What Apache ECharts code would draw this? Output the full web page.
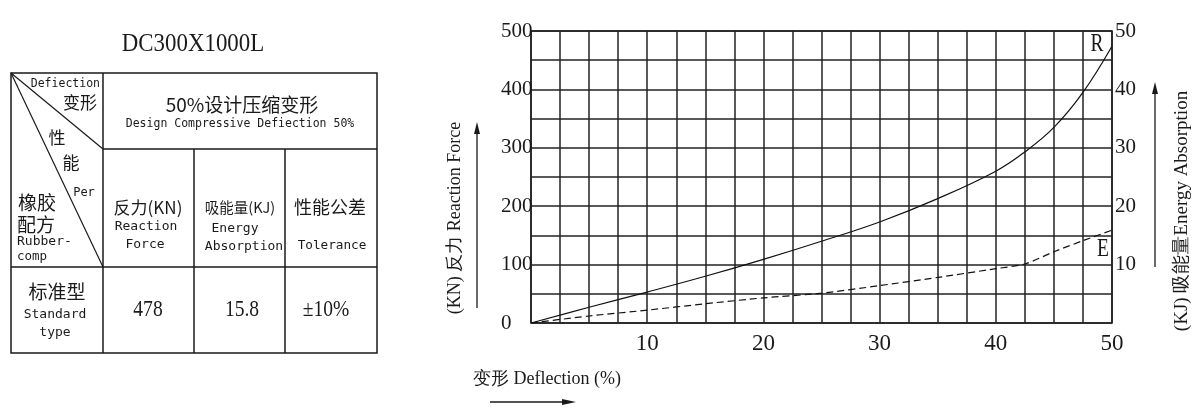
<!DOCTYPE html>
<html>
<head>
<meta charset="utf-8">
<script src="https://cdn.jsdelivr.net/npm/echarts@6/dist/echarts.min.js"></script>
<style>
html,body{margin:0;padding:0;background:#fff;}
#c{width:1200px;height:414px;}
</style>
</head>
<body>
<div id="c"></div>
<script>
// ---- data ----
const defR = [0, 5, 10, 15, 20, 25, 30, 35, 40, 42.5, 45, 47.5, 50];
const forceR = [0, 27, 53, 80, 109, 140, 173, 213, 260, 293, 335, 395, 474];
const defE = [0, 5, 10, 15, 20, 25, 30, 35, 40, 42.5, 45, 47.5, 50];
const energyE = [0, 1.2, 2.2, 3.3, 4.3, 5.1, 6.4, 7.8, 9.3, 10.1, 12.2, 14.1, 15.9];
const xTickLabels = [10, 20, 30, 40, 50];
const yLeftTickLabels = [0, 100, 200, 300, 400, 500];
const yRightTickLabels = [10, 20, 30, 40, 50];

const title = 'DC300X1000L';
const tableValues = ['478', '15.8', '±10%'];

// ---- helpers ----
const INK = '#1a1a1a';
const MONO = "'DejaVu Sans Mono', monospace";
const CJK = "'Noto Sans CJK SC', sans-serif";
const SERIF = "'Liberation Serif', serif";

function T(text, x, y, size, family, o) {
  o = o || {};
  return {
    type: 'text', x: x, y: y,
    scaleX: o.sx || 1, rotation: o.rot || 0,
    style: {
      text: text, x: 0, y: 0,
      fill: INK,
      font: (o.weight || 'normal') + ' ' + size + 'px ' + family,
      textAlign: o.align || 'center',
      textVerticalAlign: 'middle'
    }
  };
}
function L(x1, y1, x2, y2, w) {
  return { type: 'line', shape: { x1: x1, y1: y1, x2: x2, y2: y2 },
    style: { stroke: INK, lineWidth: w || 1.5 } };
}
function arrowUp(x, yBot, yTip) {
  return [L(x, yBot, x, yTip + 8, 1.3),
    { type: 'polygon', shape: { points: [[x, yTip], [x - 3, yTip + 12], [x + 3, yTip + 12]] }, style: { fill: INK } }];
}
function arrowRight(y, xL, xTip) {
  return [L(xL, y, xTip - 8, y, 1.3),
    { type: 'polygon', shape: { points: [[xTip, y], [xTip - 14, y - 3], [xTip - 14, y + 3]] }, style: { fill: INK } }];
}

// ---- table geometry ----
const tx0 = 11, tx1 = 103, tx2 = 194, tx3 = 285, tx4 = 377;
const ty0 = 73, ty1 = 149, ty2 = 267, ty3 = 353;

const g = [];
// table lines
g.push({ type: 'rect', shape: { x: tx0, y: ty0, width: tx4 - tx0, height: ty3 - ty0 },
  style: { fill: 'none', stroke: INK, lineWidth: 1.5 } });
g.push(L(tx1, ty0, tx1, ty3));
g.push(L(tx1, ty1, tx4, ty1));
g.push(L(tx0, ty2, tx4, ty2));
g.push(L(tx2, ty1, tx2, ty3));
g.push(L(tx3, ty1, tx3, ty3));
g.push(L(tx0, ty0, tx1, ty1, 1.2));
g.push(L(tx0, ty0, tx1, ty2, 1.2));

// title
g.push(T(title, 193, 44, 26, SERIF, { sx: 0.88 }));

// header corner
g.push(T('Defiection', 100, 84, 11.5, MONO, { align: 'right' }));
g.push(T('变形', 97, 103, 17, CJK, { align: 'right' }));
g.push(T('性', 57, 138, 17, CJK));
g.push(T('能', 71, 163, 17, CJK));
g.push(T('Per', 84, 193, 12, MONO));
g.push(T('橡胶', 37, 203, 19, CJK));
g.push(T('配方', 36, 225, 19, CJK));
g.push(T('Rubber-', 17, 242, 13, MONO, { align: 'left' }));
g.push(T('comp', 17, 257, 12.5, MONO, { align: 'left' }));

// merged header
g.push(T('50%设计压缩变形', 242, 105, 19, CJK));
g.push(T('Design Compressive Defiection 50%', 240, 124, 11.5, MONO));

// row 2
g.push(T('反力(KN)', 148, 208, 17, CJK));
g.push(T('Reaction', 146, 227, 13, MONO));
g.push(T('Force', 145, 245, 13, MONO));
g.push(T('吸能量(KJ)', 240, 207, 14.5, CJK));
g.push(T('Energy', 235, 229, 13, MONO));
g.push(T('Absorption', 244, 247, 13, MONO));
g.push(T('性能公差', 330, 207, 18, CJK));
g.push(T('Tolerance', 332, 246, 12.7, MONO));

// row 3
g.push(T('标准型', 57, 292, 19, CJK));
g.push(T('Standard', 55, 315, 13, MONO));
g.push(T('type', 55, 333, 13, MONO));
g.push(T(tableValues[0], 148, 310, 23, SERIF, { sx: 0.85 }));
g.push(T(tableValues[1], 242, 310, 23, SERIF, { sx: 0.85 }));
g.push(T(tableValues[2], 326, 310, 23, SERIF, { sx: 0.85 }));

// chart annotations
g.push(T('R', 1097, 44, 25, SERIF, { sx: 0.78 }));
g.push(T('E', 1103, 249, 25, SERIF, { sx: 0.78 }));
g.push(T('(KN) 反力 Reaction Force', 455, 218, 18, SERIF, { rot: Math.PI / 2, sx: 1 }));
g.push(T('(KJ) 吸能量Energy Absorption', 1182, 211, 19, SERIF, { rot: Math.PI / 2 }));
g.push(T('变形 Deflection (%)', 547, 379, 18, SERIF));
arrowUp(477, 308, 122).forEach(e => g.push(e));
arrowUp(1155, 267, 82).forEach(e => g.push(e));
arrowRight(402, 490, 576).forEach(e => g.push(e));

const chart = echarts.init(document.getElementById('c'), null, { renderer: 'canvas' });
const labelFont = { fontFamily: SERIF, color: INK };
chart.setOption({
  animation: false,
  backgroundColor: '#fff',
  grid: { left: 531, right: 88, top: 31, bottom: 91, show: true, borderColor: INK, borderWidth: 1.5 },
  xAxis: {
    type: 'value', min: 0, max: 50, interval: 2.5,
    axisLine: { show: false }, axisTick: { show: false },
    splitLine: { show: true, lineStyle: { color: '#222', width: 1.5 } },
    axisLabel: Object.assign({ fontSize: 23, margin: 9,
      formatter: v => xTickLabels.indexOf(v) >= 0 ? String(v) : '' }, labelFont)
  },
  yAxis: [{
    type: 'value', min: 0, max: 500, interval: 50, position: 'left',
    axisLine: { show: false }, axisTick: { show: false },
    splitLine: { show: true, lineStyle: { color: '#222', width: 1.5 } },
    axisLabel: Object.assign({ fontSize: 21, margin: 30, align: 'left',
      formatter: v => yLeftTickLabels.indexOf(v) >= 0 ? String(v) : '' }, labelFont)
  }, {
    type: 'value', min: 0, max: 50, interval: 5, position: 'right',
    axisLine: { show: false }, axisTick: { show: false },
    splitLine: { show: false },
    axisLabel: Object.assign({ fontSize: 21, margin: 3, align: 'left',
      formatter: v => yRightTickLabels.indexOf(v) >= 0 ? String(v) : '' }, labelFont)
  }],
  series: [{
    name: 'R', type: 'line', yAxisIndex: 0, symbol: 'none', smooth: 0.4,
    lineStyle: { color: '#111', width: 1.2 },
    data: defR.map((d, i) => [d, forceR[i]])
  }, {
    name: 'E', type: 'line', yAxisIndex: 1, symbol: 'none', smooth: 0.25,
    lineStyle: { color: '#111', width: 1.2, type: [7, 4] },
    data: defE.map((d, i) => [d, energyE[i]])
  }],
  graphic: { elements: g }
});
</script>
</body>
</html>
